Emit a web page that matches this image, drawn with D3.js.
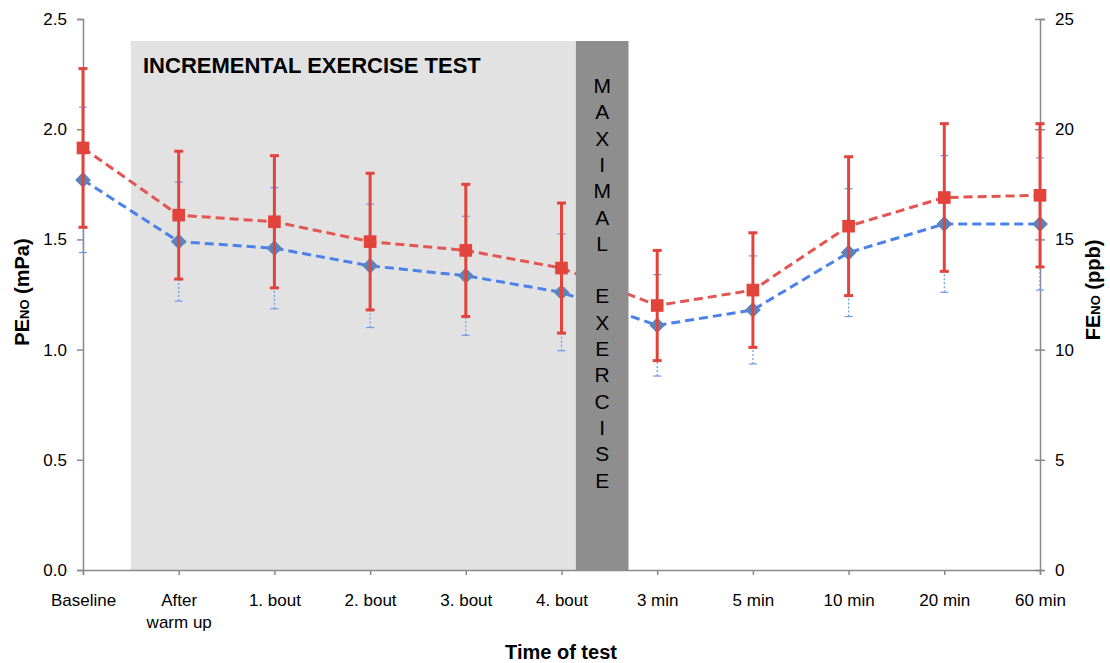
<!DOCTYPE html>
<html>
<head>
<meta charset="utf-8">
<script src="https://cdn.jsdelivr.net/npm/d3@7"></script>
<style>
    body { margin: 0; background: #fff; }
    svg text { font-family: "Liberation Sans", Arial, sans-serif; fill: #000; }
</style>
</head>
<body>
<div id="chart"></div>
<script>
(function () {
    'use strict';

    var categories = ['Baseline', 'After warm up', '1. bout', '2. bout', '3. bout', '4. bout',
            '3 min', '5 min', '10 min', '20 min', '60 min'],
        categoryLines = [['Baseline'], ['After', 'warm up'], ['1. bout'], ['2. bout'], ['3. bout'], ['4. bout'],
            ['3 min'], ['5 min'], ['10 min'], ['20 min'], ['60 min']],

        // PENO (mPa), left axis
        penoMean = [1.77, 1.49, 1.46, 1.38, 1.335, 1.26, 1.11, 1.18, 1.44, 1.57, 1.57],
        penoSd = [0.33, 0.27, 0.275, 0.28, 0.27, 0.265, 0.23, 0.245, 0.29, 0.31, 0.30],

        // FENO (ppb), right axis
        fenoMean = [19.15, 16.1, 15.8, 14.9, 14.5, 13.7, 12.0, 12.7, 15.6, 16.9, 17.0],
        fenoSd = [3.6, 2.9, 3.0, 3.1, 3.0, 2.95, 2.5, 2.6, 3.15, 3.35, 3.25],

        leftTicks = [0, 0.5, 1.0, 1.5, 2.0, 2.5],
        rightTicks = [0, 5, 10, 15, 20, 25],
        maximalLetters = ['M', 'A', 'X', 'I', 'M', 'A', 'L', '', 'E', 'X', 'E', 'R', 'C', 'I', 'S', 'E'],

        width = 1110,
        height = 663,
        plotLeft = 83,
        plotRight = 1040,
        plotTop = 19,
        plotBottom = 570,

        red = '#e2443c',
        redLine = '#e35550',
        blueLine = '#4a82ea',
        blueMarker = '#5c84ba',
        blueBar = '#6e98ea',
        axisGrey = '#8a8a8a',

        svg = d3.select('#chart')
            .append('svg')
            .attr('width', width)
            .attr('height', height),

        x = d3.scalePoint().domain(categories).range([plotLeft, plotRight]),
        xi = d3.scaleLinear().domain([0, categories.length - 1]).range([plotLeft, plotRight]),
        yLeft = d3.scaleLinear().domain([0, 2.5]).range([plotBottom, plotTop]),
        yRight = d3.scaleLinear().domain([0, 25]).range([plotBottom, plotTop]),
        bandTop = 41;

    // incremental test phase
    svg.append('rect')
        .attr('x', xi(0.5))
        .attr('y', bandTop)
        .attr('width', xi(5.15) - xi(0.5))
        .attr('height', plotBottom - bandTop)
        .style('fill', '#e2e2e2');

    svg.append('text')
        .attr('x', 143)
        .attr('y', 73)
        .style('font-size', '22px')
        .style('font-weight', 'bold')
        .text('INCREMENTAL EXERCISE TEST');

    // axes
    var gx = svg.append('g')
        .attr('transform', 'translate(0,' + plotBottom + ')')
        .call(d3.axisBottom(x).tickSize(5).tickFormat(''));
    gx.select('.domain').attr('stroke', axisGrey).attr('stroke-width', 1.5);
    gx.selectAll('.tick line').attr('stroke', axisGrey).attr('stroke-width', 1.5);
    gx.selectAll('.tick').each(function (d, i) {
        var t = d3.select(this).append('text')
            .attr('y', 36)
            .attr('text-anchor', 'middle')
            .style('font-size', '17px');
        categoryLines[i].forEach(function (line, j) {
            t.append('tspan').attr('x', 0).attr('dy', j === 0 ? 0 : 22).text(line);
        });
    });

    var gl = svg.append('g')
        .attr('transform', 'translate(' + plotLeft + ',0)')
        .call(d3.axisLeft(yLeft).tickValues(leftTicks).tickFormat(d3.format('.1f')).tickSize(6).tickPadding(10));
    gl.select('.domain').attr('stroke', axisGrey).attr('stroke-width', 1.5);
    gl.selectAll('.tick line').attr('stroke', axisGrey).attr('stroke-width', 1.5);
    gl.selectAll('.tick text').style('font-size', '17px').attr('fill', '#000');

    var gr = svg.append('g')
        .attr('transform', 'translate(' + plotRight + ',0)')
        .call(d3.axisRight(yRight).tickValues(rightTicks).tickSize(5).tickPadding(10));
    gr.select('.domain').attr('stroke', axisGrey).attr('stroke-width', 1.5);
    gr.selectAll('.tick line').attr('x1', -5).attr('stroke', axisGrey).attr('stroke-width', 1.5);
    gr.selectAll('.tick text').style('font-size', '17px').attr('fill', '#000');

    // axis titles
    var lt = svg.append('text')
        .attr('transform', 'translate(29,292) rotate(-90)')
        .attr('text-anchor', 'middle')
        .style('font-size', '20px')
        .style('font-weight', 'bold');
    lt.append('tspan').text('PE');
    lt.append('tspan').style('font-size', '13px').text('NO');
    lt.append('tspan').text(' (mPa)');

    var rt = svg.append('text')
        .attr('transform', 'translate(1100,290) rotate(-90)')
        .attr('text-anchor', 'middle')
        .style('font-size', '20px')
        .style('font-weight', 'bold');
    rt.append('tspan').text('FE');
    rt.append('tspan').style('font-size', '13px').text('NO');
    rt.append('tspan').text(' (ppb)');

    svg.append('text')
        .attr('x', 561)
        .attr('y', 659)
        .attr('text-anchor', 'middle')
        .style('font-size', '20px')
        .style('font-weight', 'bold')
        .text('Time of test');

    // series
    var blueLineGen = d3.line()
            .x(function (d, i) { return x(categories[i]); })
            .y(function (d) { return yLeft(d); }),
        redLineGen = d3.line()
            .x(function (d, i) { return x(categories[i]); })
            .y(function (d) { return yRight(d); });

    svg.append('path')
        .datum(penoMean)
        .attr('d', blueLineGen)
        .style('fill', 'none')
        .style('stroke', blueLine)
        .style('stroke-width', 3)
        .style('stroke-dasharray', '9,5');

    svg.append('path')
        .datum(fenoMean)
        .attr('d', redLineGen)
        .style('fill', 'none')
        .style('stroke', redLine)
        .style('stroke-width', 3)
        .style('stroke-dasharray', '9,5');

    function errorBars(mean, sd, scale, opts) {
        var g = svg.append('g'),
            bars = g.selectAll('g')
                .data(mean)
                .enter()
                .append('g')
                .attr('transform', function (d, i) { return 'translate(' + x(categories[i]) + ',0)'; });

        bars.append('line')
            .attr('y1', function (d, i) { return scale(d - sd[i]); })
            .attr('y2', function (d, i) { return scale(d + sd[i]); })
            .style('stroke', opts.color)
            .style('stroke-width', opts.width)
            .style('stroke-dasharray', opts.dash || null);

        [-1, 1].forEach(function (s) {
            bars.append('line')
                .attr('x1', -opts.cap)
                .attr('x2', opts.cap)
                .attr('y1', function (d, i) { return scale(d + s * sd[i]); })
                .attr('y2', function (d, i) { return scale(d + s * sd[i]); })
                .style('stroke', opts.color)
                .style('stroke-width', opts.capWidth);
        });
    }

    errorBars(penoMean, penoSd, yLeft, { color: blueBar, width: 1.2, dash: '2,2', cap: 4, capWidth: 1.2 });

    svg.append('g')
        .selectAll('path')
        .data(penoMean)
        .enter()
        .append('path')
        .attr('d', d3.symbol().type(d3.symbolSquare).size(125))
        .attr('transform', function (d, i) {
            return 'translate(' + x(categories[i]) + ',' + yLeft(d) + ') rotate(45)';
        })
        .style('fill', blueMarker);

    errorBars(fenoMean, fenoSd, yRight, { color: red, width: 3, cap: 4.5, capWidth: 3 });

    svg.append('g')
        .selectAll('path')
        .data(fenoMean)
        .enter()
        .append('path')
        .attr('d', d3.symbol().type(d3.symbolSquare).size(160))
        .attr('transform', function (d, i) {
            return 'translate(' + x(categories[i]) + ',' + yRight(d) + ')';
        })
        .style('fill', red);

    // maximal exercise band sits on top of the lines
    svg.append('rect')
        .attr('x', xi(5.15))
        .attr('y', bandTop)
        .attr('width', xi(5.7) - xi(5.15))
        .attr('height', plotBottom - bandTop)
        .style('fill', '#8e8e8e');

    svg.append('g')
        .selectAll('text')
        .data(maximalLetters)
        .enter()
        .append('text')
        .attr('x', (xi(5.15) + xi(5.7)) / 2)
        .attr('y', function (d, i) { return 93 + i * 26.3; })
        .attr('text-anchor', 'middle')
        .style('font-size', '21px')
        .text(function (d) { return d; });

}());
</script>
</body>
</html>
